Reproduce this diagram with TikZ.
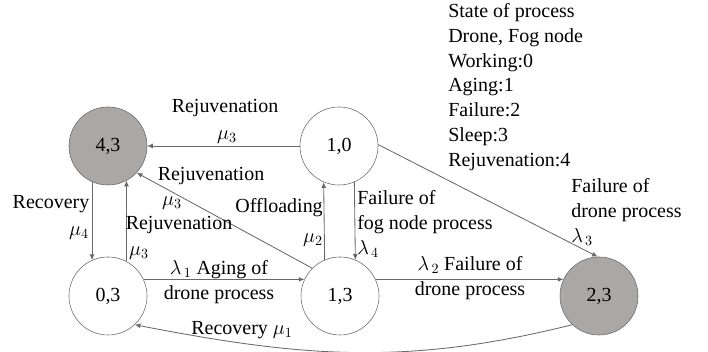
\documentclass[tikz,border=0pt]{standalone}
\usepackage{fontspec}
\setmainfont{Liberation Serif}
\usepackage{xcolor}
\usetikzlibrary{arrows.meta, positioning}

\definecolor{edgegray}{RGB}{105,105,105}
\definecolor{failgray}{RGB}{170,167,165}

\begin{document}
\begin{tikzpicture}[x=0.025cm, y=0.025cm, >={Latex[length=4pt,width=3.5pt]},
    font=\fontsize{14.2}{17.6}\selectfont,
    state/.style={circle, draw=edgegray, fill=white, minimum size=1.95cm, inner sep=0pt},
    failstate/.style={state, fill=failgray},
    lbl/.style={inner sep=0pt, align=left},
    arr/.style={->, draw=edgegray, line width=0.6pt}]

    \useasboundingbox (0,0) rectangle (708,352);

    % =================================================================
    % 1. STATES (DRONE, FOG NODE)
    % =================================================================
    \node[failstate] (n43) at (108,206) {4,3};
    \node[state]     (n10) at (339,206) {1,0};
    \node[state]     (n03) at (108,56)  {0,3};
    \node[state]     (n13) at (340,56)  {1,3};
    \node[failstate] (n23) at (599,56)  {2,3};

    % =================================================================
    % 2. TRANSITIONS
    % =================================================================
    \draw[arr] (n10) -- (n43);
    \draw[arr] (n13.135) -- (n43.317);
    \draw[arr] (n43.246) -- (n03.114);
    \draw[arr] (n03.62) -- (n43.298);
    \draw[arr] (n03.25) -- (n13.155);
    \draw[arr] (n13.113) -- (n10.247);
    \draw[arr] (n10.293) -- (n13.67);
    \draw[arr] (n10.2) -- (n23.92);
    \draw[arr] (n13.25) -- (n23.155);
    % recovery back to sleep
    \draw[arr] (n23.227) to[out=194, in=-11] (n03.313);

    % =================================================================
    % 3. RATE LABELS
    % =================================================================
    \node[lbl] (tRejA) at (225,244) {Rejuvenation};
    \node[lbl] (tMuA)  at (227,215) {$\mu_3$};
    \node[lbl] (tRejB) at (211,176) {Rejuvenation};
    \node[lbl] (tMuB)  at (172,149) {$\mu_3$};
    \node[lbl] (tRec)  at (51,148)  {Recovery};
    \node[lbl] (tMuC)  at (79,119)  {$\mu_4$};
    \node[lbl] (tRejC) at (179,127) {Rejuvenation};
    \node[lbl] (tMuD)  at (139,99)  {$\mu_3$};
    \node[lbl, align=center] (tAge) at (219,70) {$\lambda_{\,1}$ Aging of\\drone process};
    \node[lbl] (tRecB) at (242,22)  {Recovery $\mu_1$};
    \node[lbl, anchor=east] (tOff) at (323,144) {Offloading};
    \node[lbl] (tMuE)  at (313,112) {$\mu_2$};
    \node[lbl, anchor=west] (tFog) at (357,128) {Failure of\\fog node process\\$\lambda_{\,4}$};
    \node[lbl, anchor=west] (tDrn) at (571,140) {Failure of\\drone process\\$\lambda_{\,3}$};
    \node[lbl, align=center] (tFail) at (470,74) {$\lambda_{\,2}$ Failure of\\drone process};

    % =================================================================
    % 4. LEGEND
    % =================================================================
    \node[lbl, anchor=west] (legend) at (448,265) {State of process\\Drone, Fog node\\Working:0\\Aging:1\\Failure:2\\Sleep:3\\Rejuvenation:4};

\end{tikzpicture}
\end{document}
